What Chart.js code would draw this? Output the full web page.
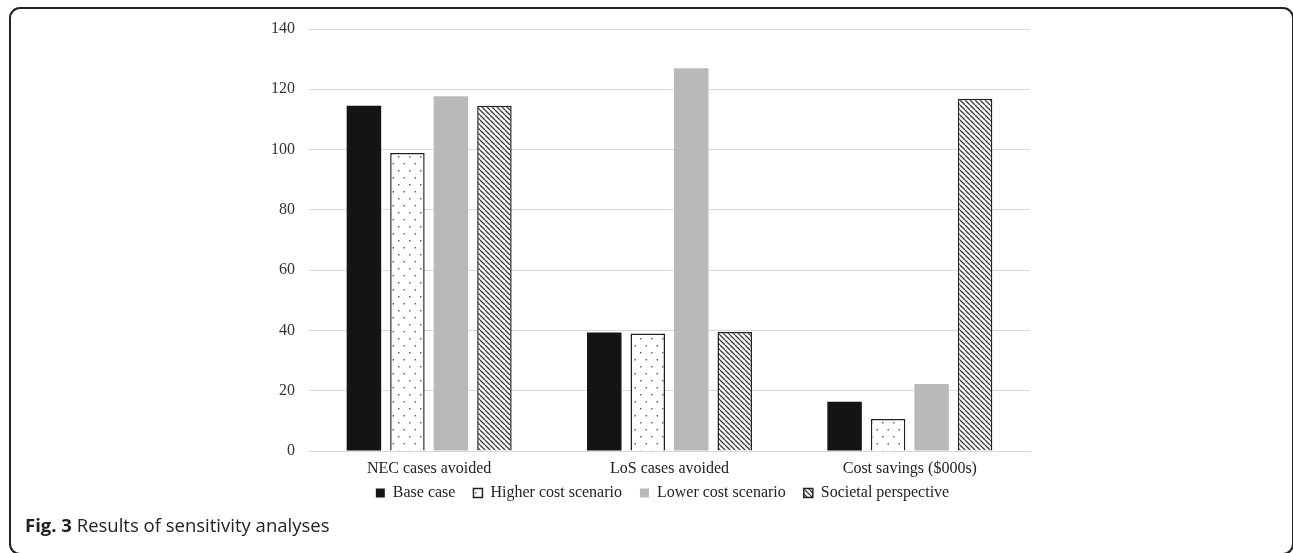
<!DOCTYPE html>
<html>
<head>
<meta charset="utf-8">
<script src="https://cdn.jsdelivr.net/npm/chart.js@4.4.1/dist/chart.umd.min.js"></script>
<style>
  html, body { margin: 0; padding: 0; background: #fff; }
  body { width: 1293px; height: 553px; position: relative; overflow: hidden; }
  #frame {
    position: absolute; left: 9px; top: 7px; width: 1285px; height: 548px;
    box-sizing: border-box; border: 2px solid #222; border-radius: 11px;
  }
  #wrap { position: absolute; left: 0; top: 0; width: 1293px; height: 553px; }
  #caption {
    position: absolute; left: 25px; top: 512px;
    font-family: "Open Sans", sans-serif; font-size: 18.5px; color: #222; white-space: nowrap;
  }
  #caption b { font-weight: 700; }
</style>
</head>
<body>
<div id="frame"></div>
<div id="wrap"><canvas id="chart" width="1293" height="553"></canvas></div>
<div id="caption"><b>Fig. 3</b> Results of sensitivity analyses</div>
<script>
// Outcome categories and sensitivity scenarios
const categories = ["NEC cases avoided", "LoS cases avoided", "Cost savings ($000s)"];
const baseCase = [114.5, 39.3, 16.3];
const higherCost = [98.9, 39.0, 10.6];
const lowerCost = [117.7, 127.0, 22.2];
const societal = [114.5, 39.5, 116.9];
const seriesNames = ["Base case", "Higher cost scenario", "Lower cost scenario", "Societal perspective"];
const yTicks = [0, 20, 40, 60, 80, 100, 120, 140];

// Fill patterns
function dotPattern() {
  const c = document.createElement('canvas');
  c.width = 11; c.height = 14;
  const g = c.getContext('2d');
  g.fillStyle = '#fff'; g.fillRect(0, 0, 11, 14);
  g.fillStyle = '#666';
  g.fillRect(2, 2, 1.5, 1.5);
  g.fillRect(7.5, 9, 1.5, 1.5);
  return g.createPattern(c, 'repeat');
}
function hatchPattern() {
  const s = 5;
  const c = document.createElement('canvas');
  c.width = s; c.height = s;
  const g = c.getContext('2d');
  g.fillStyle = '#fff'; g.fillRect(0, 0, s, s);
  g.strokeStyle = '#3a3a3a'; g.lineWidth = 1.3;
  for (const k of [-s, 0, s]) {
    g.beginPath(); g.moveTo(k, 0); g.lineTo(k + s, s); g.stroke();
  }
  return g.createPattern(c, 'repeat');
}

// Nudge the legend row up toward the category labels and slightly left
const legendNudge = {
  id: 'legendNudge',
  afterLayout(chart) {
    const lg = chart.legend;
    if (lg) { lg.top -= 12; lg.bottom -= 12; lg.left -= 7; lg.right -= 7; }
  }
};

const serif = "'Liberation Serif', 'Times New Roman', serif";
const ctx = document.getElementById('chart').getContext('2d');

new Chart(ctx, {
  type: 'bar',
  data: {
    labels: categories,
    datasets: [
      { label: seriesNames[0], data: baseCase, backgroundColor: '#141414', borderColor: '#141414', borderWidth: 0 },
      { label: seriesNames[1], data: higherCost, backgroundColor: dotPattern(), borderColor: '#222', borderWidth: 1.5 },
      { label: seriesNames[2], data: lowerCost, backgroundColor: '#b9b9b9', borderColor: '#b9b9b9', borderWidth: 0 },
      { label: seriesNames[3], data: societal, backgroundColor: hatchPattern(), borderColor: '#222', borderWidth: 1.5 }
    ]
  },
  plugins: [legendNudge],
  options: {
    responsive: false,
    animation: false,
    devicePixelRatio: 1,
    categoryPercentage: 0.724,
    barPercentage: 0.793,
    layout: { padding: { left: 249, right: 263, top: 29, bottom: 30 } },
    plugins: {
      tooltip: { enabled: false },
      legend: {
        position: 'bottom',
        fullSize: false,
        labels: {
          font: { family: serif, size: 16 },
          color: '#222',
          boxWidth: 9,
          boxHeight: 9,
          padding: 18
        }
      }
    },
    scales: {
      x: {
        grid: { display: false, drawTicks: false },
        border: { display: true, color: '#d9d9d9', width: 1 },
        ticks: { font: { family: serif, size: 16 }, color: '#222', padding: 8 },
        afterFit: s => { s.height = 28; }
      },
      y: {
        min: 0, max: 140,
        afterBuildTicks: s => { s.ticks = yTicks.map(v => ({ value: v })); },
        grid: { color: '#d9d9d9', lineWidth: 1, drawTicks: false },
        border: { display: false },
        ticks: { font: { family: serif, size: 16 }, color: '#333', padding: 14 },
        afterFit: s => { s.width = 60; }
      }
    }
  }
});
</script>
</body>
</html>
